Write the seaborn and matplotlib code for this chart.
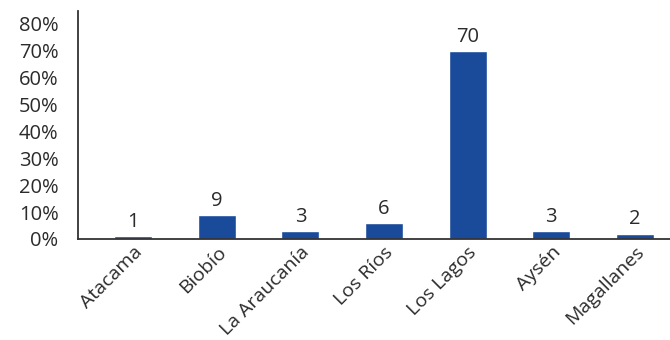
import matplotlib
matplotlib.use("Agg")
import matplotlib.pyplot as plt
import seaborn as sns
import pandas as pd
from matplotlib.ticker import FuncFormatter

regiones = ["Atacama", "Biobío", "La Araucanía", "Los Ríos", "Los Lagos", "Aysén", "Magallanes"]
porcentajes = [1, 9, 3, 6, 70, 3, 2]
yticks = [0, 10, 20, 30, 40, 50, 60, 70, 80]

df = pd.DataFrame({"region": regiones, "pct": porcentajes})

sns.set_theme(style="white")
plt.rcParams["font.family"] = ["Open Sans", "DejaVu Sans"]
text_color = "#2b2b2b"
bar_color = "#1a4b9b"

fig = plt.figure(figsize=(6.7, 3.4), dpi=100)
ax = fig.add_axes([78 / 670, 101 / 340, 1 - 78 / 670, (238 - 10) / 340])

sns.barplot(data=df, x="region", y="pct", color=bar_color, width=0.455,
            saturation=1, ax=ax)

for c in ax.containers:
    ax.bar_label(c, labels=[str(v) for v in porcentajes], padding=3,
                 fontsize=14.5, color=text_color)

ax.set_xlim(-0.66, 6.42)
ax.set_ylim(0, 84.8)
ax.set_yticks(yticks)
ax.yaxis.set_major_formatter(FuncFormatter(lambda v, _: f"{v:.0f}%"))
ax.tick_params(axis="y", labelsize=14.5, colors=text_color, length=0, pad=14)
ax.tick_params(axis="x", labelsize=14, colors=text_color, length=0, pad=3)
plt.setp(ax.get_xticklabels(), rotation=45, ha="right", rotation_mode="anchor")
ax.set_xlabel("")
ax.set_ylabel("")

for s in ["top", "right"]:
    ax.spines[s].set_visible(False)
for s in ["left", "bottom"]:
    ax.spines[s].set_color("#333333")
    ax.spines[s].set_linewidth(1.3)

fig.savefig("out.png", dpi=100)
